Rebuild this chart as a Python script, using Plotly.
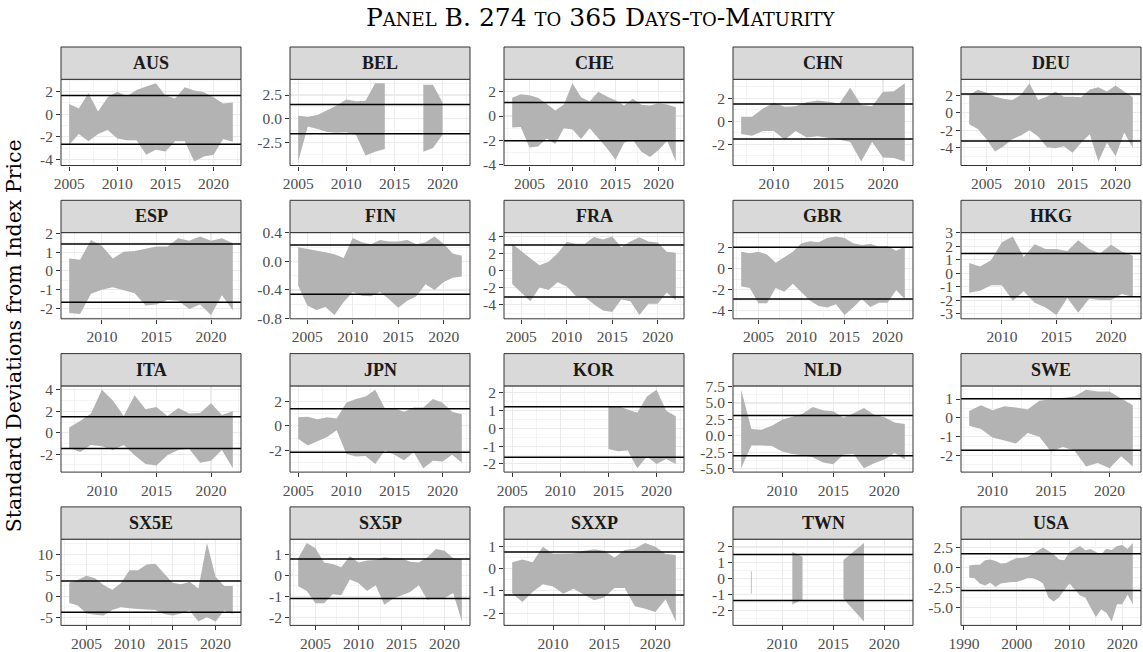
import plotly.graph_objects as go

# ---------------- data ----------------
AUS_YEARS = list(range(2005, 2023))
AUS_UPPER = [0.9, 0.5, 1.85, 0.25, 1.5, 2.0, 1.6, 2.15, 2.45, 2.75, 1.65, 1.4, 2.4, 2.1, 1.95, 1.5, 0.95, 1.05]
AUS_LOWER = [-2.7, -1.75, -2.4, -1.75, -1.4, -2.15, -2.3, -2.3, -3.6, -3.15, -3.3, -2.4, -2.4, -4.2, -3.75, -3.6, -2.2, -2.45]
AUS_HLINES = [1.66, -2.66]
AUS_XTICKS = [2005, 2010, 2015, 2020]
AUS_YTICKS = ["2", "0", "-2", "-4"]

BEL_YEARS = list(range(2005, 2023))
BEL_UPPER = [0.3, 0.2, 0.4, 0.9, 1.4, 2.04, 1.85, 1.9, 3.75, 3.75, None, None, None, 3.6, 3.6, 1.7, None, None]
BEL_LOWER = [-4.54, -0.82, -1.1, -1.4, -1.5, -1.45, -1.7, -3.9, -3.5, -3.2, None, None, None, -3.5, -3.1, -1.7, None, None]
BEL_HLINES = [1.5, -1.6]
BEL_XTICKS = [2005, 2010, 2015, 2020]
BEL_YTICKS = ["2.5", "0.0", "-2.5"]

CHE_YEARS = list(range(2003, 2023))
CHE_UPPER = [1.5, 1.8, 1.7, 1.5, 1.0, 0.45, 0.95, 2.7, 1.55, 1.2, 2.0, 1.6, 1.3, 0.87, 1.43, 0.92, 0.87, 1.06, 0.95, 0.72]
CHE_LOWER = [-0.95, -0.9, -2.6, -2.5, -1.85, -2.3, -1.0, -1.1, -1.9, -1.0, -1.8, -2.65, -3.6, -2.2, -1.95, -2.95, -3.37, -2.8, -2.04, -3.75]
CHE_HLINES = [1.12, -2.04]
CHE_XTICKS = [2005, 2010, 2015, 2020]
CHE_YTICKS = ["2", "0", "-2", "-4"]

CHN_YEARS = list(range(2007, 2023))
CHN_UPPER = [0.38, 0.38, 1.1, 1.6, 1.25, 1.3, 1.65, 1.8, 1.7, 1.55, 2.9, 1.4, 1.3, 2.55, 2.6, 3.3]
CHN_LOWER = [-1.1, -1.25, -0.85, -0.85, -1.6, -0.85, -1.4, -1.3, -1.45, -1.6, -1.8, -3.5, -1.8, -3.15, -3.2, -3.5]
CHN_HLINES = [1.5, -1.53]
CHN_XTICKS = [2010, 2015, 2020]
CHN_YTICKS = ["2", "0", "-2"]

DEU_YEARS = list(range(2003, 2023))
DEU_UPPER = [2.0, 2.6, 2.3, 1.8, 1.6, 1.45, 2.0, 3.35, 1.45, 1.8, 2.4, 1.8, 1.8, 1.75, 2.65, 2.9, 2.4, 3.1, 2.4, 1.75]
DEU_LOWER = [-1.3, -1.85, -3.0, -4.4, -3.8, -3.0, -2.6, -2.0, -2.7, -3.9, -4.05, -3.8, -4.55, -3.4, -2.45, -5.55, -3.4, -4.95, -2.25, -4.0]
DEU_HLINES = [2.13, -3.22]
DEU_XTICKS = [2005, 2010, 2015, 2020]
DEU_YTICKS = ["2", "0", "-2", "-4", "-6"]

ESP_YEARS = list(range(2007, 2023))
ESP_UPPER = [0.67, 0.6, 1.65, 1.33, 0.67, 1.03, 1.06, 1.2, 1.3, 1.3, 1.75, 1.62, 1.84, 1.62, 1.75, 1.48]
ESP_LOWER = [-2.25, -2.3, -1.22, -1.0, -0.87, -1.05, -1.2, -1.85, -1.8, -1.55, -1.6, -2.04, -1.8, -2.35, -1.3, -2.1]
ESP_HLINES = [1.44, -1.68]
ESP_XTICKS = [2010, 2015, 2020]
ESP_YTICKS = ["2", "1", "0", "-1", "-2"]

FIN_YEARS = list(range(2004, 2023))
FIN_UPPER = [0.2, 0.18, 0.15, 0.13, 0.1, 0.05, 0.33, 0.27, 0.24, 0.3, 0.28, 0.28, 0.3, 0.24, 0.27, 0.35, 0.25, 0.11, 0.08]
FIN_LOWER = [-0.34, -0.62, -0.68, -0.64, -0.75, -0.57, -0.43, -0.48, -0.49, -0.43, -0.53, -0.65, -0.55, -0.49, -0.32, -0.4, -0.29, -0.23, -0.21]
FIN_HLINES = [0.23, -0.46]
FIN_XTICKS = [2005, 2010, 2015, 2020]
FIN_YTICKS = ["0.4", "0.0", "-0.4", "-0.8"]

FRA_YEARS = list(range(2004, 2023))
FRA_UPPER = [3.1, 2.2, 1.4, 0.6, 1.0, 2.0, 3.3, 3.1, 3.1, 3.9, 3.6, 3.95, 2.7, 3.36, 3.87, 3.36, 3.24, 2.17, 2.05]
FRA_LOWER = [-1.6, -2.6, -3.6, -2.0, -2.3, -1.4, -1.9, -3.0, -3.1, -4.0, -4.7, -4.86, -3.4, -3.6, -5.2, -3.9, -3.9, -2.6, -3.5]
FRA_HLINES = [2.96, -3.12]
FRA_XTICKS = [2005, 2010, 2015, 2020]
FRA_YTICKS = ["4", "2", "0", "-2", "-4"]

GBR_YEARS = list(range(2003, 2023))
GBR_UPPER = [1.6, 1.45, 1.6, 1.35, 0.55, 1.1, 1.6, 2.4, 2.6, 2.5, 2.9, 3.05, 2.9, 2.4, 2.25, 2.35, 2.1, 2.15, 1.7, 2.1]
GBR_LOWER = [-1.7, -1.85, -3.3, -3.3, -1.85, -2.2, -1.45, -2.25, -3.05, -3.55, -3.7, -3.4, -4.4, -3.7, -2.9, -3.65, -3.25, -3.25, -2.05, -2.9]
GBR_HLINES = [2.03, -2.9]
GBR_XTICKS = [2005, 2010, 2015, 2020]
GBR_YTICKS = ["2", "0", "-2", "-4"]

HKG_YEARS = list(range(2007, 2023))
HKG_UPPER = [0.75, 0.5, 0.95, 2.3, 2.72, 1.2, 2.15, 1.8, 1.8, 1.65, 2.45, 1.8, 1.45, 2.1, 1.6, 1.3]
HKG_LOWER = [-1.45, -1.3, -0.9, -0.9, -2.05, -1.35, -2.2, -2.55, -3.1, -1.85, -2.95, -1.9, -2.0, -2.0, -1.55, -1.75]
HKG_HLINES = [1.45, -1.75]
HKG_XTICKS = [2010, 2015, 2020]
HKG_YTICKS = ["3", "2", "1", "0", "-1", "-2", "-3"]

ITA_YEARS = list(range(2007, 2023))
ITA_UPPER = [0.5, 1.1, 1.8, 4.0, 3.0, 1.55, 3.5, 2.2, 2.4, 1.55, 2.3, 1.8, 1.85, 2.75, 1.65, 2.0]
ITA_LOWER = [-1.4, -1.8, -1.15, -1.25, -1.6, -1.15, -2.1, -2.9, -3.05, -2.1, -1.6, -1.5, -2.8, -2.6, -1.6, -3.3]
ITA_HLINES = [1.5, -1.47]
ITA_XTICKS = [2010, 2015, 2020]
ITA_YTICKS = ["4", "2", "0", "-2"]

JPN_YEARS = list(range(2005, 2023))
JPN_UPPER = [0.7, 0.75, 0.55, 0.7, 0.6, 1.9, 2.2, 2.4, 2.95, 1.45, 1.45, 1.15, 1.5, 1.5, 2.2, 1.9, 1.15, 0.95]
JPN_LOWER = [-1.05, -1.6, -1.25, -0.9, -0.35, -2.3, -2.5, -2.45, -3.1, -2.0, -2.35, -2.8, -2.15, -3.45, -2.85, -2.9, -2.35, -3.0]
JPN_HLINES = [1.4, -2.15]
JPN_XTICKS = [2005, 2010, 2015, 2020]
JPN_YTICKS = ["2", "0", "-2"]

KOR_YEARS = list(range(2005, 2023))
KOR_UPPER = [None, None, None, None, None, None, None, None, None, None, 1.25, 1.25, 1.06, 0.87, 1.78, 2.16, 0.98, 0.68]
KOR_LOWER = [None, None, None, None, None, None, None, None, None, None, -1.16, -1.29, -1.25, -2.24, -1.59, -2.01, -1.73, -2.01]
KOR_HLINES = [1.21, -1.63]
KOR_XTICKS = [2005, 2010, 2015, 2020]
KOR_YTICKS = ["2", "1", "0", "-1", "-2"]

NLD_YEARS = list(range(2006, 2023))
NLD_UPPER = [7.0, 1.05, 0.95, 1.55, 2.45, 2.95, 3.35, 4.4, 3.9, 3.75, 2.75, 3.45, 4.25, 3.2, 2.85, 2.05, 1.8]
NLD_LOWER = [-4.9, -1.45, -1.45, -1.55, -2.35, -2.75, -2.95, -3.25, -4.05, -4.3, -2.85, -2.75, -4.9, -4.15, -3.6, -2.6, -3.6]
NLD_HLINES = [3.1, -3.0]
NLD_XTICKS = [2010, 2015, 2020]
NLD_YTICKS = ["7.5", "5.0", "2.5", "0.0", "-2.5", "-5.0"]

SWE_YEARS = list(range(2008, 2023))
SWE_UPPER = [0.36, 0.67, 0.4, 0.62, 0.55, 0.44, 0.91, 0.98, 1.04, 1.13, 1.49, 1.4, 1.4, 1.04, 0.67]
SWE_LOWER = [-0.42, -0.6, -1.05, -1.2, -1.38, -0.82, -1.02, -1.82, -1.56, -1.75, -2.6, -2.42, -2.69, -2.05, -2.6]
SWE_HLINES = [1.02, -1.73]
SWE_XTICKS = [2010, 2015, 2020]
SWE_YTICKS = ["1", "0", "-1", "-2"]

SX5E_YEARS = list(range(2003, 2023))
SX5E_UPPER = [3.25, 3.9, 4.9, 4.3, 2.7, 1.6, 3.1, 6.2, 6.2, 7.6, 7.8, 5.5, 3.25, 2.9, 3.5, 1.9, 12.7, 4.7, 2.45, 2.45]
SX5E_LOWER = [-1.6, -2.2, -4.1, -4.4, -4.6, -3.25, -2.6, -2.85, -3.0, -3.2, -3.25, -4.2, -4.6, -4.1, -3.4, -6.0, -5.0, -6.0, -3.4, -4.2]
SX5E_HLINES = [3.66, -3.82]
SX5E_XTICKS = [2005, 2010, 2015, 2020]
SX5E_YTICKS = ["10", "5", "0", "-5"]

SX5P_YEARS = list(range(2003, 2023))
SX5P_UPPER = [0.8, 1.52, 1.28, 0.6, 0.53, 0.37, 0.91, 0.6, 0.69, 0.72, 0.85, 0.8, 0.8, 0.64, 0.6, 0.85, 1.24, 1.16, 0.8, 0.75]
SX5P_LOWER = [-0.53, -0.75, -1.33, -1.33, -0.91, -0.96, -0.21, -0.37, -0.75, -0.48, -1.41, -1.12, -0.96, -0.8, -0.48, -1.17, -1.09, -1.08, -0.85, -2.2]
SX5P_HLINES = [0.77, -1.11]
SX5P_XTICKS = [2005, 2010, 2015, 2020]
SX5P_YTICKS = ["1", "0", "-1", "-2"]

SXXP_YEARS = list(range(2006, 2023))
SXXP_UPPER = [0.3, 0.42, 0.3, 1.0, 0.68, 0.68, 0.7, 0.8, 0.88, 0.82, 0.51, 0.85, 0.9, 1.16, 1.0, 0.67, 0.62]
SXXP_LOWER = [-1.1, -1.5, -1.05, -0.7, -0.8, -1.13, -0.9, -1.17, -1.42, -1.3, -0.87, -0.87, -1.69, -1.8, -1.95, -1.38, -2.38]
SXXP_HLINES = [0.76, -1.18]
SXXP_XTICKS = [2010, 2015, 2020]
SXXP_YTICKS = ["1", "0", "-1", "-2"]

TWN_YEARS = list(range(2006, 2023))
TWN_UPPER = [None, 0.47, None, None, None, 1.69, 1.39, None, None, None, 1.18, 1.69, 2.24, None, None, None, None]
TWN_LOWER = [None, -0.92, None, None, None, -1.6, -1.3, None, None, None, -1.24, -1.94, -2.67, None, None, None, None]
TWN_HLINES = [1.52, -1.35]
TWN_XTICKS = [2010, 2015, 2020]
TWN_YTICKS = ["2", "1", "0", "-1", "-2"]

USA_YEARS = list(range(1991, 2023))
USA_UPPER = [0.2, 0.3, 0.3, 0.85, 0.95, 0.75, 0.45, 0.5, 0.85, 1.15, 1.15, 1.25, 1.65, 2.1, 2.45, 2.0,
             1.6, 0.95, 0.85, 1.9, 2.25, 2.65, 2.1, 2.25, 1.9, 1.6, 2.3, 2.15, 2.65, 2.75, 2.25, 3.0]
USA_LOWER = [-1.3, -1.4, -2.05, -2.3, -1.95, -2.5, -2.05, -1.95, -1.85, -1.85, -1.65, -1.4, -1.4, -1.65, -2.05, -3.8,
             -4.3, -3.8, -2.9, -2.05, -2.85, -3.55, -3.8, -5.05, -6.25, -5.3, -5.7, -6.8, -4.65, -4.65, -3.45, -4.65]
USA_HLINES = [1.67, -2.92]
USA_XTICKS = [1990, 2000, 2010, 2020]
USA_YTICKS = ["2.5", "0.0", "-2.5", "-5.0"]

PANELS = [
    ("AUS", AUS_YEARS, AUS_UPPER, AUS_LOWER, AUS_HLINES, AUS_XTICKS, AUS_YTICKS),
    ("BEL", BEL_YEARS, BEL_UPPER, BEL_LOWER, BEL_HLINES, BEL_XTICKS, BEL_YTICKS),
    ("CHE", CHE_YEARS, CHE_UPPER, CHE_LOWER, CHE_HLINES, CHE_XTICKS, CHE_YTICKS),
    ("CHN", CHN_YEARS, CHN_UPPER, CHN_LOWER, CHN_HLINES, CHN_XTICKS, CHN_YTICKS),
    ("DEU", DEU_YEARS, DEU_UPPER, DEU_LOWER, DEU_HLINES, DEU_XTICKS, DEU_YTICKS),
    ("ESP", ESP_YEARS, ESP_UPPER, ESP_LOWER, ESP_HLINES, ESP_XTICKS, ESP_YTICKS),
    ("FIN", FIN_YEARS, FIN_UPPER, FIN_LOWER, FIN_HLINES, FIN_XTICKS, FIN_YTICKS),
    ("FRA", FRA_YEARS, FRA_UPPER, FRA_LOWER, FRA_HLINES, FRA_XTICKS, FRA_YTICKS),
    ("GBR", GBR_YEARS, GBR_UPPER, GBR_LOWER, GBR_HLINES, GBR_XTICKS, GBR_YTICKS),
    ("HKG", HKG_YEARS, HKG_UPPER, HKG_LOWER, HKG_HLINES, HKG_XTICKS, HKG_YTICKS),
    ("ITA", ITA_YEARS, ITA_UPPER, ITA_LOWER, ITA_HLINES, ITA_XTICKS, ITA_YTICKS),
    ("JPN", JPN_YEARS, JPN_UPPER, JPN_LOWER, JPN_HLINES, JPN_XTICKS, JPN_YTICKS),
    ("KOR", KOR_YEARS, KOR_UPPER, KOR_LOWER, KOR_HLINES, KOR_XTICKS, KOR_YTICKS),
    ("NLD", NLD_YEARS, NLD_UPPER, NLD_LOWER, NLD_HLINES, NLD_XTICKS, NLD_YTICKS),
    ("SWE", SWE_YEARS, SWE_UPPER, SWE_LOWER, SWE_HLINES, SWE_XTICKS, SWE_YTICKS),
    ("SX5E", SX5E_YEARS, SX5E_UPPER, SX5E_LOWER, SX5E_HLINES, SX5E_XTICKS, SX5E_YTICKS),
    ("SX5P", SX5P_YEARS, SX5P_UPPER, SX5P_LOWER, SX5P_HLINES, SX5P_XTICKS, SX5P_YTICKS),
    ("SXXP", SXXP_YEARS, SXXP_UPPER, SXXP_LOWER, SXXP_HLINES, SXXP_XTICKS, SXXP_YTICKS),
    ("TWN", TWN_YEARS, TWN_UPPER, TWN_LOWER, TWN_HLINES, TWN_XTICKS, TWN_YTICKS),
    ("USA", USA_YEARS, USA_UPPER, USA_LOWER, USA_HLINES, USA_XTICKS, USA_YTICKS),
]

TITLE = "Panel B. 274 to 365 Days-to-Maturity"
YTITLE = "Standard Deviations from Index Price"

# ---------------- layout / style ----------------
W, H = 1143, 652
FONT = "Liberation Serif"
RIBBON = "#B3B3B3"
GRID = "#EBEBEB"
DARK = "#333333"
TICKTXT = "#4D4D4D"

COL_LEFT = [61, 290, 504, 733, 961]
PANEL_W = 180
ROW_TOP = [47, 200.3, 353.6, 506.9]
STRIP_H = 32.3
PLOT_H = 86.2


def px_x(v):
    return v / W


def px_y(v):
    return 1 - v / H


fig = go.Figure()
shapes = []
annotations = []
layout_axes = {}

for i, (name, years, upper, lower, hlines, xticks, yticks) in enumerate(PANELS):
    r, c = divmod(i, 5)
    k = i + 1
    xa = "x" if k == 1 else f"x{k}"
    ya = "y" if k == 1 else f"y{k}"
    xkey = "xaxis" if k == 1 else f"xaxis{k}"
    ykey = "yaxis" if k == 1 else f"yaxis{k}"

    # contiguous ribbon segments
    segments, seg = [], []
    for yr, u, l in zip(years, upper, lower):
        if u is None or l is None:
            if seg:
                segments.append(seg)
                seg = []
        else:
            seg.append((yr, u, l))
    if seg:
        segments.append(seg)

    for s in segments:
        xs = [p[0] for p in s]
        us = [p[1] for p in s]
        ls = [p[2] for p in s]
        if len(s) == 1:
            fig.add_trace(go.Scatter(x=xs + xs, y=us + ls, mode="lines",
                                     line=dict(color=RIBBON, width=0.8),
                                     xaxis=xa, yaxis=ya, hoverinfo="skip", showlegend=False))
        else:
            fig.add_trace(go.Scatter(x=xs + xs[::-1], y=us + ls[::-1], mode="lines",
                                     fill="toself", fillcolor=RIBBON,
                                     line=dict(width=0, color=RIBBON),
                                     xaxis=xa, yaxis=ya, hoverinfo="skip", showlegend=False))

    # ranges (ggplot-like 5% expansion)
    xmin, xmax = min(years), max(years)
    xs_span = xmax - xmin
    xr = [xmin - 0.05 * xs_span, xmax + 0.05 * xs_span]
    vals = [v for v in list(upper) + list(lower) + list(hlines) if v is not None]
    vmin, vmax = min(vals), max(vals)
    vs = vmax - vmin
    yr_ = [vmin - 0.05 * vs, vmax + 0.05 * vs]

    ytv = [float(t) for t in yticks]
    ystep = abs(ytv[1] - ytv[0])
    xstep = xticks[1] - xticks[0]

    x0p = COL_LEFT[c]
    x1p = COL_LEFT[c] + PANEL_W
    stop = ROW_TOP[r]
    ptop = stop + STRIP_H
    pbot = ptop + PLOT_H

    common = dict(ticks="outside", ticklen=4, tickwidth=1, tickcolor=DARK,
                  showgrid=True, gridcolor=GRID, gridwidth=1.1,
                  zeroline=False, showline=False, fixedrange=True, automargin=False,
                  tickfont=dict(family=FONT, size=15.5, color=TICKTXT))

    layout_axes[xkey] = dict(domain=[px_x(x0p), px_x(x1p)], anchor=ya, range=xr,
                             tickmode="array", tickvals=xticks, ticktext=[str(t) for t in xticks],
                             minor=dict(tickmode="linear", tick0=xticks[0], dtick=xstep / 2,
                                        showgrid=True, gridcolor=GRID, gridwidth=0.55),
                             **common)
    layout_axes[ykey] = dict(domain=[px_y(pbot), px_y(ptop)], anchor=xa, range=yr_,
                             tickmode="array", tickvals=ytv, ticktext=yticks,
                             minor=dict(tickmode="linear", tick0=ytv[0], dtick=ystep / 2,
                                        showgrid=True, gridcolor=GRID, gridwidth=0.55),
                             **common)

    # horizontal reference lines
    for h in hlines:
        shapes.append(dict(type="line", xref=f"{xa} domain", yref=ya, x0=0, x1=1, y0=h, y1=h,
                           line=dict(color="black", width=1.5), layer="above"))
    # panel border
    shapes.append(dict(type="rect", xref=f"{xa} domain", yref=f"{ya} domain", x0=0, x1=1, y0=0, y1=1,
                       line=dict(color=DARK, width=1), fillcolor="rgba(0,0,0,0)", layer="above"))
    # strip
    shapes.append(dict(type="rect", xref="paper", yref="paper",
                       x0=px_x(x0p), x1=px_x(x1p), y0=px_y(ptop), y1=px_y(stop),
                       line=dict(color=DARK, width=1), fillcolor="#D9D9D9", layer="above"))
    annotations.append(dict(text=f"<b>{name}</b>", xref="paper", yref="paper",
                            x=px_x((x0p + x1p) / 2), y=px_y((stop + ptop) / 2),
                            xanchor="center", yanchor="middle", showarrow=False,
                            font=dict(family=FONT, size=18, color="#1A1A1A")))

annotations.append(dict(text=TITLE, xref="paper", yref="paper",
                        x=px_x((COL_LEFT[0] + COL_LEFT[-1] + PANEL_W) / 2), y=px_y(18),
                        xanchor="center", yanchor="middle", showarrow=False,
                        font=dict(family="DejaVu Serif", size=25, color="black", variant="small-caps")))
annotations.append(dict(text=YTITLE, xref="paper", yref="paper", textangle=-90,
                        x=px_x(14), y=px_y((ROW_TOP[0] + ROW_TOP[-1] + STRIP_H + PLOT_H) / 2),
                        xanchor="center", yanchor="middle", showarrow=False,
                        font=dict(family="DejaVu Serif", size=20.5, color="black")))

fig.update_layout(width=W, height=H, margin=dict(l=0, r=0, t=0, b=0, autoexpand=False),
                  paper_bgcolor="white", plot_bgcolor="white",
                  showlegend=False, shapes=shapes, annotations=annotations,
                  font=dict(family=FONT), **layout_axes)

fig.write_html("out.html",
               config={"displayModeBar": False, "staticPlot": True},
               post_script="document.body.style.margin='0px';document.body.style.padding='0px';")
